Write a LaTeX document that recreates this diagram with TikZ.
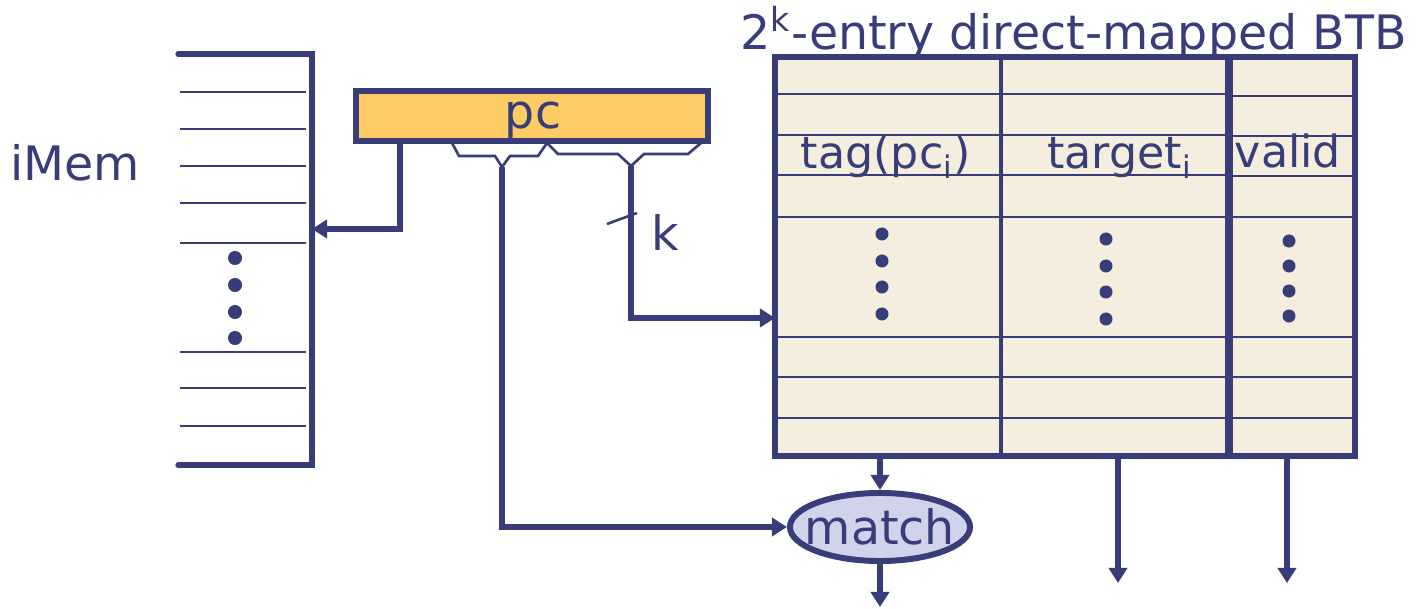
\documentclass[tikz,border=0pt]{standalone}
\usepackage{fontspec}
\setmainfont{DejaVu Sans}
\usetikzlibrary{arrows.meta,shapes.geometric}

\definecolor{navy}{RGB}{56,61,121}
\definecolor{pcfill}{RGB}{253,204,100}
\definecolor{btbfill}{RGB}{245,238,222}
\definecolor{matchfill}{RGB}{208,211,234}

\tikzset{
  wire/.style={draw=navy,line width=1.5pt},
  rowline/.style={draw=navy,line width=0.75pt},
  bus/.style={wire,-{Triangle[length=0.15cm,width=0.18cm]}},
  lbl/.style={text=navy,font=\fontsize{13.5pt}{16pt}\selectfont,inner sep=0pt},
  cell/.style={lbl,font=\fontsize{12.6pt}{15pt}\selectfont,anchor=base}
}

\begin{document}
\begin{tikzpicture}[x=0.01cm,y=-0.01cm]
   \useasboundingbox (0,0) rectangle (1420,609);

   % instruction memory
   \draw[wire,line cap=round] (178,54) -- (312,54) -- (312,465) -- (178,465);
   \draw[rowline] (180,92) -- (306,92);
   \draw[rowline] (180,129) -- (306,129);
   \draw[rowline] (180,166) -- (306,166);
   \draw[rowline] (180,203) -- (306,203);
   \draw[rowline] (180,243) -- (306,243);
   \draw[rowline] (180,352) -- (306,352);
   \draw[rowline] (180,388) -- (306,388);
   \draw[rowline] (180,426) -- (306,426);
   \fill[navy] (235,258) circle (0.07cm);
   \fill[navy] (235,285) circle (0.07cm);
   \fill[navy] (235,312) circle (0.07cm);
   \fill[navy] (235,338) circle (0.07cm);
   \node[lbl,anchor=base] (imem) at (75,180) {iMem};

   % program counter and its fields
   \node[draw=navy,line width=1.7pt,fill=pcfill,minimum width=3.51cm,
         minimum height=0.49cm,inner sep=0pt] (pc) at (532,116) {};
   \node[lbl,anchor=base] (pclbl) at (533,128) {pc};
   \draw[rowline] (452,143) -- (459,156) -- (495,156) -- (502,167)
                  -- (510,156) -- (538,156) -- (547,143);
   \draw[rowline] (547,143) -- (558,154) -- (618,154) -- (631,166)
                  -- (644,154) -- (688,154) -- (701,143);
   \coordinate (tapmem) at (400,143);
   \coordinate (tagapex) at (502,167);
   \coordinate (idxapex) at (631,166);
   \coordinate (memin) at (312,229);
   \coordinate (idxin) at (775,318);

   % BTB array
   \node[anchor=base west,lbl] (title) at (740,50)
        {2\textsuperscript{k}-entry direct-mapped BTB};
   \node[draw=navy,line width=1.7pt,fill=btbfill,minimum width=5.8cm,
         minimum height=3.99cm,inner sep=0pt] (btb) at (1065,256.5) {};
   \draw[rowline] (775,94) -- (1229,94);
   \draw[rowline] (775,135) -- (1229,135);
   \draw[rowline] (775,175) -- (1229,175);
   \draw[rowline] (1229,96) -- (1355,96);
   \draw[rowline] (1229,136) -- (1355,136);
   \draw[rowline] (1229,176) -- (1355,176);
   \draw[rowline] (775,217) -- (1355,217);
   \draw[rowline] (775,337) -- (1355,337);
   \draw[rowline] (775,377) -- (1355,377);
   \draw[rowline] (775,418) -- (1355,418);
   \draw[wire,line width=1.1pt] (1001,57) -- (1001,456);
   \draw[wire,line width=2.1pt] (1229,57) -- (1229,456);
   \node[cell] (tag) at (886,169) {tag(pc\textsubscript{i})};
   \node[cell] (target) at (1120,169) {target\textsubscript{i}};
   \node[cell] (valid) at (1288,167) {valid};
   \fill[navy] (882,234) circle (0.065cm);
   \fill[navy] (882,261) circle (0.065cm);
   \fill[navy] (882,287) circle (0.065cm);
   \fill[navy] (882,314) circle (0.065cm);
   \fill[navy] (1106,239) circle (0.065cm);
   \fill[navy] (1106,266) circle (0.065cm);
   \fill[navy] (1106,292) circle (0.065cm);
   \fill[navy] (1106,319) circle (0.065cm);
   \fill[navy] (1289,241) circle (0.065cm);
   \fill[navy] (1289,266) circle (0.065cm);
   \fill[navy] (1289,291) circle (0.065cm);
   \fill[navy] (1289,316) circle (0.065cm);

   % tag compare
   \node[ellipse,draw=navy,line width=1.7pt,fill=matchfill,inner sep=0pt,
         minimum width=1.8cm,minimum height=0.68cm] (match) at (880,527) {};
   \node[lbl] (matchlbl) at (match) {match};
   \coordinate (hitout) at (880,607);
   \coordinate (tgtout) at (1118,583);
   \coordinate (vldout) at (1287,583);

   % wires
   \draw[bus] (tapmem) |- (memin);
   \draw[bus] (idxapex) |- (idxin);
   \draw[bus] (tagapex) |- (match.west);
   \draw[rowline] (607,224) -- (637,213);
   \node[lbl,anchor=base] (kbits) at (665,250) {k};
   \draw[bus] (btb.south -| match.north) -- (match.north);
   \draw[bus] (match.south) -- (hitout);
   \draw[bus] (btb.south -| tgtout) -- (tgtout);
   \draw[bus] (btb.south -| vldout) -- (vldout);
\end{tikzpicture}
\end{document}
